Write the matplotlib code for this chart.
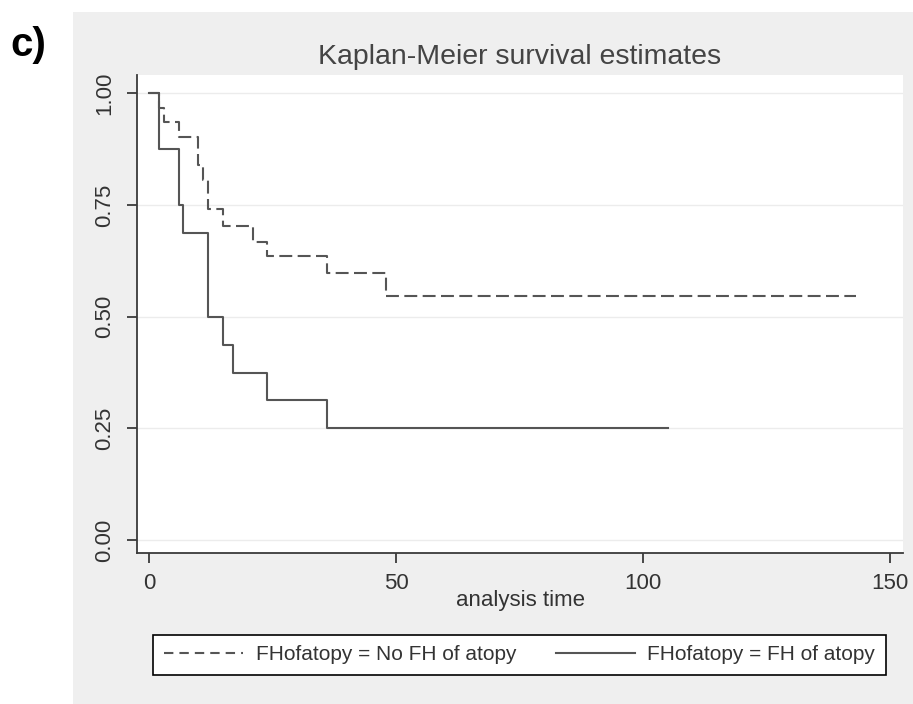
import matplotlib
matplotlib.use("Agg")
import matplotlib.pyplot as plt
from matplotlib.patches import Rectangle
from matplotlib.lines import Line2D

# Data
time_nofh = [0, 2, 3, 6, 10, 11, 12, 15, 21, 24, 36, 48, 143]
surv_nofh = [1.0, 0.968, 0.935, 0.903, 0.839, 0.806, 0.742, 0.704, 0.668, 0.636, 0.597, 0.547, 0.547]
time_fh = [0, 2, 6, 7, 12, 15, 17, 24, 36, 105]
surv_fh = [1.0, 0.875, 0.75, 0.6875, 0.5, 0.4375, 0.375, 0.3125, 0.25, 0.25]
x_ticks = [0, 50, 100, 150]
y_ticks = [0.0, 0.25, 0.5, 0.75, 1.0]
y_ticklabels = ["0.00", "0.25", "0.50", "0.75", "1.00"]
label_nofh = "FHofatopy = No FH of atopy"
label_fh = "FHofatopy = FH of atopy"
title = "Kaplan-Meier survival estimates"
xlabel = "analysis time"

W, H = 913, 704
fig = plt.figure(figsize=(W / 100, H / 100), dpi=100)
fig.patch.set_facecolor("white")

reg = ["Liberation Sans", "DejaVu Sans"]
FS = 16

def fx(px):
    return px / W

def fy(py):
    return 1 - py / H

# gray graph region
fig.patches.append(Rectangle((fx(73), 0), fx(913) - fx(73), fy(12), transform=fig.transFigure,
                             facecolor="#efefef", edgecolor="none", zorder=-5))

left, right, top, bottom = 137, 903, 75, 553
ax = fig.add_axes([fx(left), fy(bottom), fx(right) - fx(left), fy(top) - fy(bottom)])
ax.set_facecolor("white")
ax.set_xlim(-2.4, 152.6)
ax.set_ylim(-0.029, 1.041)

for s in ["top", "right"]:
    ax.spines[s].set_visible(False)
for s in ["left", "bottom"]:
    ax.spines[s].set_color("#3a3a3a")
    ax.spines[s].set_linewidth(1.3)

ax.set_xticks(x_ticks)
ax.set_xticklabels([str(v) for v in x_ticks], fontfamily=reg, fontsize=FS, color="#333333")
ax.set_yticks(y_ticks)
ax.set_yticklabels(y_ticklabels, fontfamily=reg, fontsize=FS, color="#333333",
                   rotation=90, va="center")
ax.tick_params(axis="both", length=7.5, width=1.3, color="#3a3a3a")
ax.tick_params(axis="x", pad=7)
ax.tick_params(axis="y", pad=8)

ax.yaxis.grid(True, color="#ececec", linewidth=1.0)
ax.set_axisbelow(True)

ax.step(time_nofh, surv_nofh, where="post", color="#555555", linewidth=1.5,
        linestyle=(0, (6.2, 2.6)))
ax.step(time_fh, surv_fh, where="post", color="#555555", linewidth=1.5)

ax.set_xlabel(xlabel, fontfamily=reg, fontsize=FS, color="#333333", labelpad=-3)

fig.text(fx(520), fy(57), title, fontfamily=reg, fontsize=20.5, color="#444444",
         ha="center", va="center")
fig.text(fx(10), fy(45), "c)", fontfamily=reg, fontsize=29, fontweight="bold",
         color="black", ha="left", va="center")

handles = [Line2D([], [], color="#555555", linewidth=1.5, linestyle=(0, (4.5, 2.9))),
           Line2D([], [], color="#555555", linewidth=1.5)]
leg = fig.legend(handles, [label_nofh, label_fh], loc="center", ncol=2,
                 bbox_to_anchor=(fx(143), fy(680), fx(896) - fx(143), fy(630) - fy(680)),
                 mode="expand", frameon=True, fancybox=False, handlelength=3.8,
                 handletextpad=0.6, columnspacing=2.0, borderpad=0.5,
                 prop={"family": reg, "size": 15})
leg.get_frame().set_edgecolor("black")
leg.get_frame().set_linewidth(1.2)
leg.get_frame().set_facecolor("white")
leg.get_frame().set_alpha(1.0)
for t in leg.get_texts():
    t.set_color("#333333")

fig.savefig("out.png", dpi=100, facecolor=fig.get_facecolor())
